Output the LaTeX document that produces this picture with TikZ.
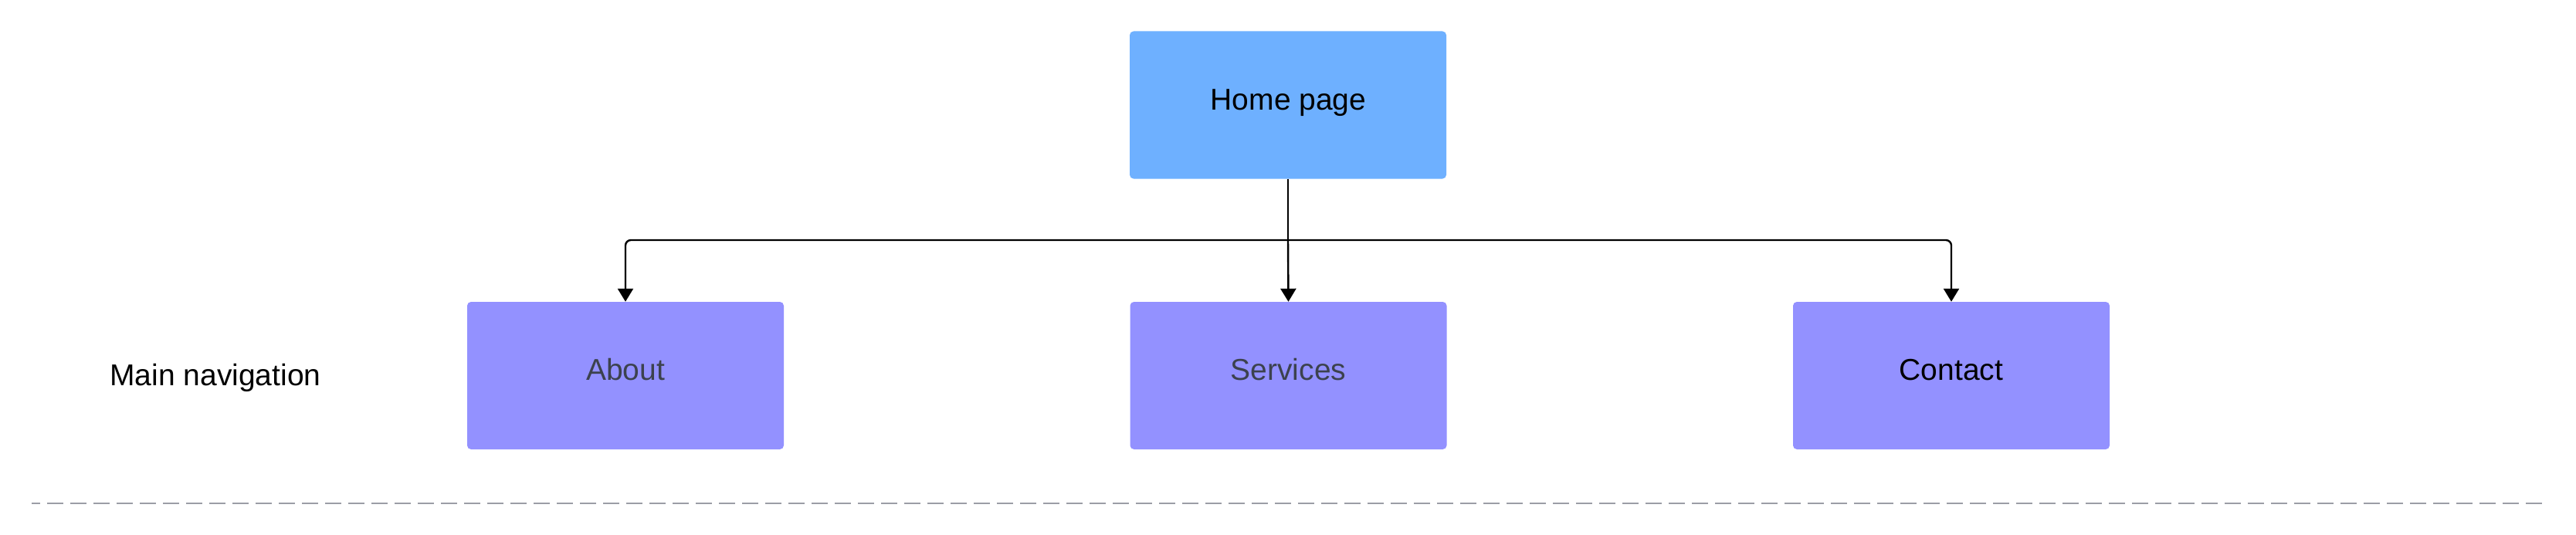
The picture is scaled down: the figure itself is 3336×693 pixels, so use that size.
\documentclass[tikz,border=0pt]{standalone}
\usepackage{fontspec}
\setmainfont{Liberation Sans}
\usetikzlibrary{arrows.meta}
\definecolor{homefill}{RGB}{110,176,255}
\definecolor{navfill}{RGB}{147,145,255}
\definecolor{navtext}{RGB}{60,66,78}
\definecolor{sepgray}{RGB}{155,157,166}
\begin{document}
\begin{tikzpicture}[x=1pt,y=1pt,
  boxst/.style={draw=none,rounded corners=5pt,minimum width=410pt,minimum height=191pt,inner sep=0pt},
  lbl/.style={inner sep=0pt,font=\fontsize{39}{45}\selectfont},
  conn/.style={line width=2.4pt,draw=black},
  tip/.style={-{Triangle[width=20pt,length=17pt]}}
]
\useasboundingbox (0,0) rectangle (3336,-693);
% boxes
\node[boxst,fill=homefill] (home) at (1668,-136) {};
\node[boxst,fill=navfill] (about) at (810,-486.5) {};
\node[boxst,fill=navfill] (services) at (1668.5,-486.5) {};
\node[boxst,fill=navfill] (contact) at (2527,-486.5) {};
% labels
\node[lbl,anchor=base] (homet) at (1668.5,-142) {Home page};
\node[lbl,anchor=base,text=navtext] (aboutt) at (810,-492) {About};
\node[lbl,anchor=base,text=navtext] (servicest) at (1668.5,-492) {Services};
\node[lbl,anchor=base] (contactt) at (2527,-492) {Contact};
\node[lbl,anchor=base] (mainnav) at (279,-499) {Main navigation};
% connectors
\coordinate (jn) at (1668,-311);
\draw[conn] (home.south) -- (jn);
\draw[conn,tip,rounded corners=7pt] (jn) -| (about.north);
\draw[conn,tip,rounded corners=7pt] (jn) -| (contact.north);
\draw[conn,tip] (jn) -- (services.north);
% separator
\coordinate (sepL) at (41,-652);
\coordinate (sepR) at (3295,-652);
\draw[sepgray,line width=2.4pt,dash pattern=on 21pt off 9pt,dash phase=10pt] (sepL) -- (sepR);
\end{tikzpicture}
\end{document}
